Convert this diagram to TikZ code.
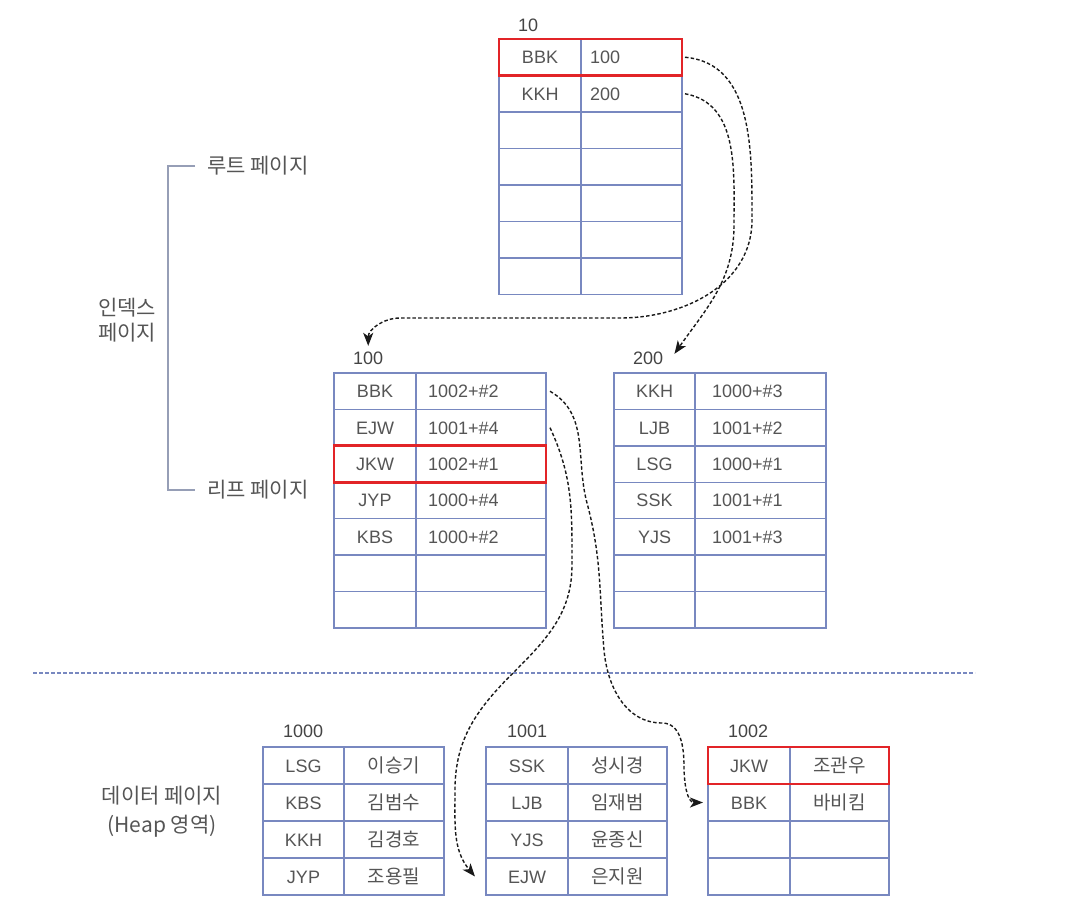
\documentclass[tikz,border=0pt]{standalone}
\usepackage{fontspec}
\setmainfont{Liberation Sans}
\newfontfamily\kr{Noto Sans CJK KR}
\usetikzlibrary{positioning,fit,arrows.meta}

\definecolor{gridblue}{RGB}{120,136,192}
\definecolor{textgray}{RGB}{85,85,85}
\definecolor{selred}{RGB}{226,36,40}
\definecolor{bracketgray}{RGB}{150,158,182}

\begin{document}
\begin{tikzpicture}[
    x=1pt, y=1pt,
    cell/.style={draw=gridblue, line width=1.3pt, inner sep=0pt, outer sep=0pt,
        anchor=north west, text=textgray, font=\fontsize{18}{20}\selectfont,
        text height=13pt, text depth=0pt, minimum height=36.5pt},
    kcell/.style={cell, minimum width=#1},
    vcell/.style 2 args={cell, text width=#1, inner xsep=#2, align=left},
    dcell/.style={cell, minimum width=#1, minimum height=37pt},
    hcell/.style={dcell=#1, font=\kr\fontsize{19}{20}\selectfont},
    sel/.style={draw=selred, line width=2.8pt, inner sep=0pt},
    pglabel/.style={anchor=south west, inner sep=0pt, text=textgray!80!black,
        font=\fontsize{18}{20}\selectfont},
    side/.style={inner sep=0pt, text=textgray, font=\kr\fontsize{21}{25}\selectfont},
    bracket/.style={draw=bracketgray, line width=1.3pt},
    divider/.style={draw=gridblue, line width=1.6pt, dash pattern=on 4pt off 2pt},
    link/.style={-{Stealth[length=13pt,width=10pt,inset=3.5pt]}, line width=1.4pt,
        dash pattern=on 3.5pt off 2.2pt, black!90}
]
    \useasboundingbox (0,0) rectangle (1066,-908);

    % root page
    \foreach \k/\v [count=\i] in {BBK/100,KKH/200} {
        \node[kcell=82pt] (p10k\i) at (499,{-39-36.5*(\i-1)}) {\k};
        \node[vcell={83pt}{9pt}] (p10v\i) at (p10k\i.north east) {\v};
    }
    \foreach \i in {3,...,7} {
        \node[kcell=82pt] (p10k\i) at (499,{-39-36.5*(\i-1)}) {};
        \node[vcell={83pt}{9pt}] (p10v\i) at (p10k\i.north east) {};
    }
    \node[pglabel] (lbl10) at ([shift={(19pt,7pt)}]p10k1.north west) {10};

    % leaf pages
    \foreach \k/\v [count=\i] in {BBK/1002+\#2,EJW/1001+\#4,JKW/1002+\#1,JYP/1000+\#4,KBS/1000+\#2} {
        \node[kcell=82pt] (p100k\i) at (334,{-373-36.4*(\i-1)}) {\k};
        \node[vcell={106pt}{12pt}] (p100v\i) at (p100k\i.north east) {\v};
    }
    \foreach \k/\v [count=\i] in {KKH/1000+\#3,LJB/1001+\#2,LSG/1000+\#1,SSK/1001+\#1,YJS/1001+\#3} {
        \node[kcell=81pt] (p200k\i) at (614,{-373-36.4*(\i-1)}) {\k};
        \node[vcell={97pt}{17pt}] (p200v\i) at (p200k\i.north east) {\v};
    }
    \foreach \i in {6,7} {
        \node[kcell=82pt] (p100k\i) at (334,{-373-36.4*(\i-1)}) {};
        \node[vcell={106pt}{12pt}] (p100v\i) at (p100k\i.north east) {};
        \node[kcell=81pt] (p200k\i) at (614,{-373-36.4*(\i-1)}) {};
        \node[vcell={97pt}{17pt}] (p200v\i) at (p200k\i.north east) {};
    }
    \node[pglabel] (lbl100) at ([shift={(19pt,8pt)}]p100k1.north west) {100};
    \node[pglabel] (lbl200) at ([shift={(19pt,8pt)}]p200k1.north west) {200};

    % data pages
    \foreach \k/\v [count=\i] in {LSG/이승기,KBS/김범수,KKH/김경호,JYP/조용필} {
        \node[dcell=81pt] (p1000k\i) at (263,{-747-37*(\i-1)}) {\k};
        \node[hcell=100pt] (p1000v\i) at (p1000k\i.north east) {\v};
    }
    \foreach \k/\v [count=\i] in {SSK/성시경,LJB/임재범,YJS/윤종신,EJW/은지원} {
        \node[dcell=82pt] (p1001k\i) at (486,{-747-37*(\i-1)}) {\k};
        \node[hcell=99pt] (p1001v\i) at (p1001k\i.north east) {\v};
    }
    \foreach \k/\v [count=\i] in {JKW/조관우,BBK/바비킴} {
        \node[dcell=82pt] (p1002k\i) at (708,{-747-37*(\i-1)}) {\k};
        \node[hcell=99pt] (p1002v\i) at (p1002k\i.north east) {\v};
    }
    \foreach \i in {3,4} {
        \node[dcell=82pt] (p1002k\i) at (708,{-747-37*(\i-1)}) {};
        \node[hcell=99pt] (p1002v\i) at (p1002k\i.north east) {};
    }
    \node[pglabel] (lbl1000) at ([shift={(20pt,9pt)}]p1000k1.north west) {1000};
    \node[pglabel] (lbl1001) at ([shift={(21pt,9pt)}]p1001k1.north west) {1001};
    \node[pglabel] (lbl1002) at ([shift={(20pt,9pt)}]p1002k1.north west) {1002};

    % selected rows
    \node[sel, fit=(p10k1)(p10v1)] (sel10) {};
    \node[sel, fit=(p100k3)(p100v3)] (sel100) {};
    \node[sel, fit=(p1002k1)(p1002v1)] (sel1002) {};

    % side labels
    \node[side, anchor=west] (rootlbl) at (207,-166) {루트 페이지};
    \node[side, anchor=west] (leaflbl) at (207,-490) {리프 페이지};
    \draw[bracket] ([xshift=-12pt]rootlbl.west) -- ++(-27,0) |- ([xshift=-12pt]leaflbl.west);
    \node[side, align=center] (idxlbl) at (127,-320) {인덱스\\페이지};
    \node[side, align=center, font=\kr\fontsize{21}{29}\selectfont] (datalbl) at (162,-812) {데이터 페이지\\(Heap 영역)};

    \draw[divider] (33,-673) -- (975,-673);

    % pointers
    \draw[link] ([xshift=3pt]p10v1.east) to[out=-5,in=90] (752,-220)
        to[out=-90,in=0] (620,-318) -- (400,-318)
        to[out=180,in=90] ([yshift=6pt]lbl100.north);
    \draw[link] ([xshift=3pt]p10v2.east) to[out=-10,in=90] (734,-225)
        to[out=-90,in=55] ([shift={(11pt,-2pt)}]lbl200.north east);
    \draw[link] ([xshift=4pt]p100v1.east) to[out=-30,in=105] (587,-503)
        to[out=-75,in=95] (604,-650) to[out=-85,in=180] (662,-723)
        to[out=0,in=90] (684,-766) to[out=-90,in=180] ([xshift=-5pt]p1002k2.west);
    \draw[link] ([xshift=4pt]p100v2.east) to[out=-65,in=90] (572,-565)
        to[out=-90,in=45] (513,-673) to[out=225,in=90] (455,-790)
        to[out=-90,in=130] ([xshift=-11pt]p1001k4.west);
\end{tikzpicture}
\end{document}
